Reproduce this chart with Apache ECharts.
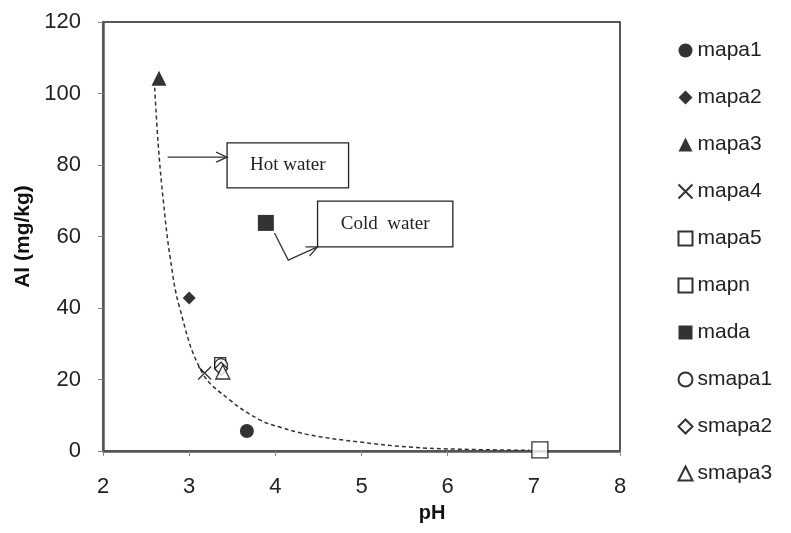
<!DOCTYPE html>
<html><head><meta charset="utf-8">
<script src="https://cdn.jsdelivr.net/npm/echarts@6/dist/echarts.min.js"></script>
<style>html,body{margin:0;padding:0;background:#fff}#c{width:791px;height:533px}</style>
</head><body><div id="c"></div>
<script>
// ---- data ----
var seriesNames = ['mapa1','mapa2','mapa3','mapa4','mapa5','mapn','mada','smapa1','smapa2','smapa3'];
var mapa1 = [[3.67, 5.6]];
var mapa2 = [[3.0, 42.8]];
var mapa3 = [[2.65, 104.3]];
var mapa4 = [[3.18, 21.8]];
var mapa5 = [[3.36, 24.6]];
var mapn  = [[7.07, 0.3]];
var mada  = [[3.89, 63.8]];
var smapa1 = [[3.37, 24.0]];
var smapa2 = [[3.37, 23.0]];
var smapa3 = [[3.39, 22.1]];
var curveX = [2.60, 2.64, 2.70, 2.78, 2.89, 3.15, 3.47, 3.82, 4.05, 4.40, 4.98, 5.56, 6.14, 6.95];
var curveY = [101.6, 86, 70, 54, 40, 22, 14.3, 8.7, 6.7, 4.5, 2.5, 1.1, 0.5, 0.2];
var xTicks = [2,3,4,5,6,7,8];
var yTicks = [0,20,40,60,80,100,120];

var crossPath = 'path://M0,0L10,10M0,10L10,0';
var styles = {
  mapa1:{symbol:'circle', size:14, fill:'#000'},
  mapa2:{symbol:'diamond', size:13, fill:'#000'},
  mapa3:{symbol:'triangle', size:15, fill:'#000'},
  mapa4:{symbol:crossPath, size:13, fill:'none'},
  mapa5:{symbol:'rect', size:11, fill:'#fff'},
  mapn:{symbol:'rect', size:16, fill:'#fff'},
  mada:{symbol:'rect', size:16, fill:'#000'},
  smapa1:{symbol:'circle', size:13, fill:'#fff'},
  smapa2:{symbol:'diamond', size:13, fill:'#fff'},
  smapa3:{symbol:'triangle', size:14, fill:'#fff'}
};
var dataMap = {mapa1:mapa1,mapa2:mapa2,mapa3:mapa3,mapa4:mapa4,mapa5:mapa5,mapn:mapn,mada:mada,smapa1:smapa1,smapa2:smapa2,smapa3:smapa3};

var series = [{
  name:'fit', type:'line', data: curveX.map(function(x,i){return [x, curveY[i]];}),
  smooth:0.4, showSymbol:false, symbol:'none', silent:true, z:1,
  lineStyle:{color:'#333', width:1.5, type:[4,3]}
}];
seriesNames.forEach(function(n){
  var s = styles[n];
  series.push({
    name:n, type:'scatter', data:dataMap[n], symbol:s.symbol, symbolSize:s.size, z:3,
    itemStyle:{color:s.fill, borderColor:'#000', borderWidth:(s.fill==='#000'?0:1.3)}
  });
});

var chart = echarts.init(document.getElementById('c'), null, {renderer:'canvas'});
var font = 'Arial, "Liberation Sans", sans-serif';
chart.setOption({
  animation:false,
  backgroundColor:'#fff',
  grid:{left:103, top:22, width:517, height:429, show:true, borderColor:'#222', borderWidth:1.5, backgroundColor:'transparent'},
  xAxis:{type:'value', min:xTicks[0], max:xTicks[xTicks.length-1], interval:1,
    axisLine:{onZero:false, lineStyle:{color:'#555', width:2.5}},
    axisTick:{show:true, length:5, lineStyle:{color:'#888'}},
    splitLine:{show:false},
    axisLabel:{fontSize:22, color:'#222', fontFamily:font, margin:25}
  },
  yAxis:{type:'value', min:yTicks[0], max:yTicks[yTicks.length-1], interval:20,
    axisLine:{show:true, onZero:false, lineStyle:{color:'#555', width:2.5}},
    axisTick:{show:true, length:5, lineStyle:{color:'#888'}},
    splitLine:{show:false},
    axisLabel:{fontSize:22, color:'#222', fontFamily:font, margin:22},
    name:'Al (mg/kg)', nameLocation:'middle', nameGap:68, nameRotate:90,
    nameTextStyle:{fontSize:21, fontWeight:'bold', color:'#111', fontFamily:font}
  },
  legend:{orient:'vertical', left:671, top:35, itemGap:26, itemWidth:14, itemHeight:14,
    data: seriesNames, textStyle:{fontSize:21, color:'#222', fontFamily:font, lineHeight:20, padding:[0,0,0,0]}
  },
  series:series
});

function px(x,y){return chart.convertToPixel({gridIndex:0},[x,y]);}
var hb1 = px(3.44, 86.2), hb2 = px(4.85, 73.6);
var ha1 = px(2.75, 82.2), ha2 = px(3.44, 82.2);
var cb1 = px(4.49, 69.9), cb2 = px(6.06, 57.1);
var cp1 = px(3.99, 61), cp2 = px(4.15, 53.4), cp3 = px(4.49, 57.1);
var tfont = '"Liberation Serif", "DejaVu Serif", serif';
function arrowHead(tip, from){
  var dx = tip[0]-from[0], dy = tip[1]-from[1], L = Math.sqrt(dx*dx+dy*dy);
  var ux=dx/L, uy=dy/L, len=11, w=5;
  return [[tip[0]-ux*len - uy*w, tip[1]-uy*len + ux*w], tip, [tip[0]-ux*len + uy*w, tip[1]-uy*len - ux*w]];
}
chart.setOption({graphic:[
  {type:'rect', shape:{x:hb1[0], y:hb1[1], width:hb2[0]-hb1[0], height:hb2[1]-hb1[1]}, style:{fill:'#fff', stroke:'#222', lineWidth:1.3}, z:10},
  {type:'text', x:(hb1[0]+hb2[0])/2, y:(hb1[1]+hb2[1])/2, style:{text:'Hot water', font:'19px '+tfont, fill:'#222', textAlign:'center', textVerticalAlign:'middle'}, z:11},
  {type:'polyline', shape:{points:[ha1, ha2]}, style:{stroke:'#333', lineWidth:1.3, fill:null}, z:10},
  {type:'polyline', shape:{points:arrowHead(ha2, ha1)}, style:{stroke:'#333', lineWidth:1.3, fill:null}, z:10},
  {type:'rect', shape:{x:cb1[0], y:cb1[1], width:cb2[0]-cb1[0], height:cb2[1]-cb1[1]}, style:{fill:'#fff', stroke:'#222', lineWidth:1.3}, z:10},
  {type:'text', x:(cb1[0]+cb2[0])/2, y:(cb1[1]+cb2[1])/2, style:{text:'Cold  water', font:'19px '+tfont, fill:'#222', textAlign:'center', textVerticalAlign:'middle'}, z:11},
  {type:'polyline', shape:{points:[cp1, cp2, cp3]}, style:{stroke:'#333', lineWidth:1.3, fill:null}, z:10},
  {type:'polyline', shape:{points:arrowHead(cp3, cp2)}, style:{stroke:'#333', lineWidth:1.3, fill:null}, z:10},
  {type:'text', x:px(5.82,0)[0], y:513, style:{text:'pH', font:'bold 20px '+font, fill:'#111', textAlign:'center', textVerticalAlign:'middle'}, z:11}
]});
</script>
</body></html>
